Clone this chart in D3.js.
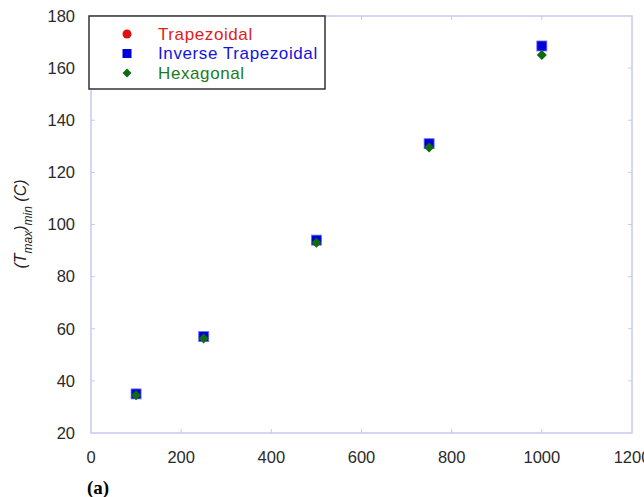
<!DOCTYPE html>
<html>
<head>
<meta charset="utf-8">
<script src="https://cdn.jsdelivr.net/npm/d3@7"></script>
<style>
  body { margin: 0; background: #fff; }
  text { font-family: "Liberation Sans", Arial, sans-serif; }
</style>
</head>
<body>
<div id="chart"></div>
<script>
// heat flux values and the three fin profiles
var xs = [100, 250, 500, 750, 1000];
var trapezoidal = [35, 57, 94, 131, 168.5];
var invTrapezoidal = [35, 57, 94, 131, 168.5];
var hexagonal = [34.5, 56.3, 93, 129.5, 165];
var xTicks = [0, 200, 400, 600, 800, 1000, 1200];
var yTicks = [20, 40, 60, 80, 100, 120, 140, 160, 180];
var legendNames = ["Trapezoidal", "Inverse Trapezoidal", "Hexagonal"];

var w = 644, h = 497;
var pl = 91, pr = 632, pt = 16, pb = 433;

var svg = d3.select("#chart").append("svg")
  .attr("width", w)
  .attr("height", h);

var x = d3.scaleLinear().domain([0, 1200]).range([pl, pr]);
var y = d3.scaleLinear().domain([20, 180]).range([pb, pt]);

var frame = "#c8c8f4";

// frame
svg.append("rect")
  .attr("x", pl).attr("y", pt)
  .attr("width", pr - pl).attr("height", pb - pt)
  .style("fill", "none").style("stroke", frame).style("stroke-width", 1.5);

// ticks on all sides, pointing in
var ax = svg.append("g");
ax.selectAll(".xt").data(xTicks.slice(1, -1))
.enter().append("line")
  .attr("x1", x).attr("x2", x)
  .attr("y1", pb).attr("y2", pb - 4)
  .style("stroke", frame);
ax.selectAll(".xt2").data(xTicks.slice(1, -1))
.enter().append("line")
  .attr("x1", x).attr("x2", x)
  .attr("y1", pt).attr("y2", pt + 4)
  .style("stroke", frame);
ax.selectAll(".yt").data(yTicks.slice(1, -1))
.enter().append("line")
  .attr("x1", pl).attr("x2", pl + 4)
  .attr("y1", y).attr("y2", y)
  .style("stroke", frame);
ax.selectAll(".yt2").data(yTicks.slice(1, -1))
.enter().append("line")
  .attr("x1", pr).attr("x2", pr - 4)
  .attr("y1", y).attr("y2", y)
  .style("stroke", frame);

// tick labels
svg.selectAll(".xl").data(xTicks)
.enter().append("text")
  .attr("x", x).attr("y", pb + 30)
  .attr("text-anchor", "middle")
  .style("font-size", "16.5px").style("fill", "#2a2a2a")
  .text(String);
svg.selectAll(".yl").data(yTicks)
.enter().append("text")
  .attr("x", pl - 16).attr("y", y)
  .attr("dy", ".35em")
  .attr("text-anchor", "end")
  .style("font-size", "16.5px").style("fill", "#2a2a2a")
  .text(String);

// y title
var yt = svg.append("text")
  .attr("transform", "translate(26,224) rotate(-90)")
  .attr("text-anchor", "middle")
  .style("font-size", "16px").style("font-style", "italic").style("fill", "#222");
yt.append("tspan").text("(T");
yt.append("tspan").attr("dy", 6).style("font-size", "12px").text("max");
yt.append("tspan").attr("dy", -6).text(")");
yt.append("tspan").attr("dy", 6).style("font-size", "12px").text("min");
yt.append("tspan").attr("dy", -6).text(" (C)");

// markers
function diamond(s) {
  return "M0," + (-s) + "L" + s + ",0L0," + s + "L" + (-s) + ",0Z";
}

svg.selectAll(".trap").data(xs)
.enter().append("circle")
  .attr("cx", x)
  .attr("cy", function(d, i) { return y(trapezoidal[i]); })
  .attr("r", 5)
  .style("fill", "#e01010");

svg.selectAll(".inv").data(xs)
.enter().append("rect")
  .attr("x", function(d) { return x(d) - 5; })
  .attr("y", function(d, i) { return y(invTrapezoidal[i]) - 5; })
  .attr("width", 10).attr("height", 10)
  .style("fill", "#0000d8").style("stroke", "#7070ff").style("stroke-width", 0.8);

svg.selectAll(".hex").data(xs)
.enter().append("path")
  .attr("transform", function(d, i) { return "translate(" + x(d) + "," + y(hexagonal[i]) + ")"; })
  .attr("d", diamond(5))
  .style("fill", "#106a10");

// legend
var lg = svg.append("g");
lg.append("rect")
  .attr("x", 89).attr("y", 16).attr("width", 236).attr("height", 73)
  .style("fill", "#fff").style("stroke", "#333").style("stroke-width", 1.5);
var colors = ["#e02020", "#1414e0", "#207a20"];
var rows = lg.selectAll(".row").data(legendNames)
.enter().append("g")
  .attr("transform", function(d, i) { return "translate(0," + (34 + i * 19.5) + ")"; });
rows.append("text")
  .attr("x", 158).attr("dy", ".35em")
  .style("font-size", "17px")
  .style("letter-spacing", "0.6px")
  .style("fill", function(d, i) { return colors[i]; })
  .text(String);
rows.filter(function(d, i) { return i == 0; }).append("circle")
  .attr("cx", 127).attr("r", 4.5).style("fill", "#e01010");
rows.filter(function(d, i) { return i == 1; }).append("rect")
  .attr("x", 122.5).attr("y", -4.5).attr("width", 9).attr("height", 9)
  .style("fill", "#0000d8");
rows.filter(function(d, i) { return i == 2; }).append("path")
  .attr("transform", "translate(127,0)")
  .attr("d", diamond(4.5))
  .style("fill", "#106a10");

// panel label
svg.append("text")
  .attr("x", 87).attr("y", 494)
  .style("font-family", "'Liberation Serif', 'Times New Roman', serif")
  .style("font-weight", "bold").style("font-size", "19px")
  .text("(a)");
</script>
</body>
</html>
